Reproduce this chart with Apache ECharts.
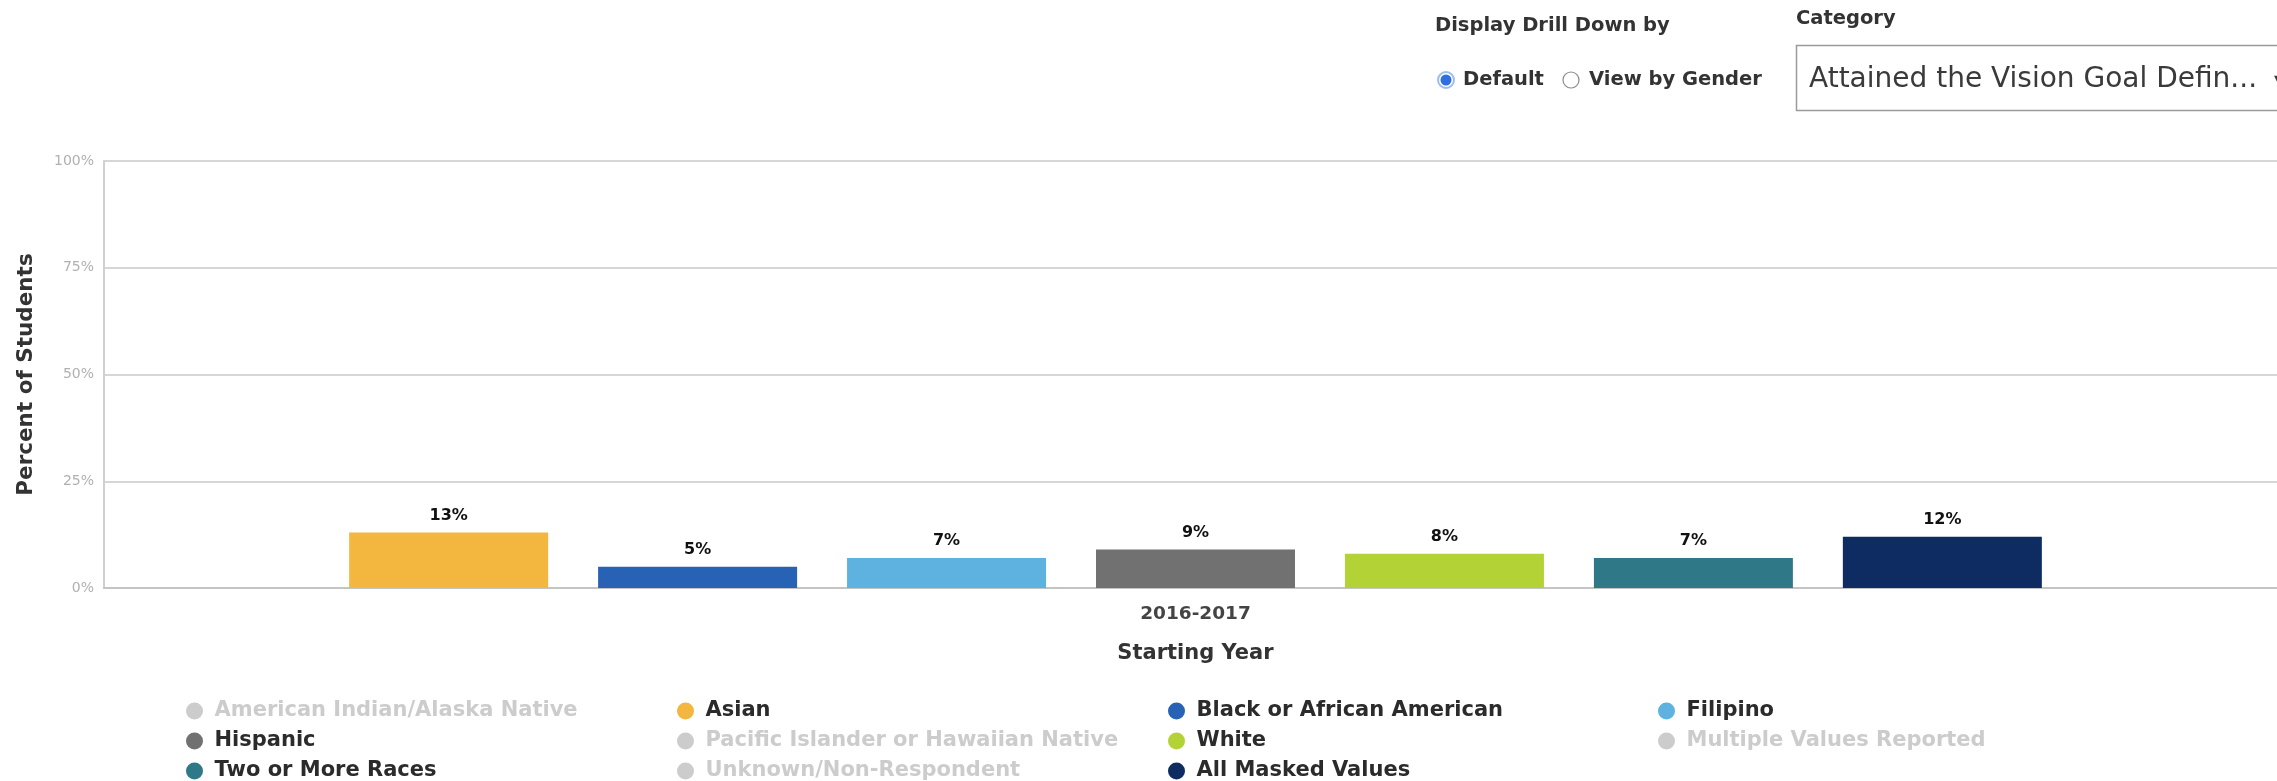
<!DOCTYPE html>
<html>
<head>
<meta charset="utf-8">
<title>Percent of Students by Starting Year</title>
<script src="https://cdn.jsdelivr.net/npm/echarts@6/dist/echarts.min.js"></script>
<style>
  html, body { margin: 0; padding: 0; background: #ffffff; }
  #chart { width: 2277px; height: 781px; }
</style>
</head>
<body>
<div id="chart"></div>
<script>
// Starting years on the category axis
const startingYears = ['2016-2017'];

// Student groups, in legend order
const groupNames = [
  'American Indian/Alaska Native',
  'Asian',
  'Black or African American',
  'Filipino',
  'Hispanic',
  'Pacific Islander or Hawaiian Native',
  'White',
  'Multiple Values Reported',
  'Two or More Races',
  'Unknown/Non-Respondent',
  'All Masked Values'
];

// Percent of students per group for 2016-2017 (null = no reported value)
const percentByGroup = [null, 13, 5, 7, 9, null, 8, null, 7, null, 12];

// Groups switched on in the legend
const groupShown = [false, true, true, true, true, false, true, false, true, false, true];

// Percent axis ticks
const percentTicks = [0, 25, 50, 75, 100];

// Colour for each group
const groupColors = [
  '#9aa7b1', '#F3B63F', '#2862B5', '#5DB2E0', '#717171', '#b8a0c8',
  '#B3D236', '#8d8d8d', '#2E7888', '#c0c0c0', '#0E2C62'
];

const BOLD = '"DejaVu Sans", "Noto Sans", sans-serif';
const PLAIN = '"DejaVu Sans", "Open Sans", sans-serif';

const series = groupNames.map((name, i) => ({
  name: name,
  type: 'bar',
  data: startingYears.map(() => percentByGroup[i]),
  barWidth: 199,
  barGap: '25.1%',
  itemStyle: { color: groupColors[i] },
  label: {
    show: true,
    position: 'top',
    distance: 9,
    formatter: p => p.value + '%',
    color: '#111',
    fontFamily: BOLD,
    fontWeight: 'bold',
    fontSize: 16
  }
}));

const selected = {};
groupNames.forEach((n, i) => { selected[n] = groupShown[i]; });

// Four legend columns laid out like a grid
const columnLeft = [186, 677, 1168, 1658];
const legends = columnLeft.map((left, c) => ({
  orient: 'vertical',
  left: left,
  top: 700,
  height: 90,
  padding: 0,
  icon: 'circle',
  itemWidth: 30,
  itemHeight: 17,
  itemGap: 8,
  selectedMode: true,
  inactiveColor: '#cccccc',
  selected: selected,
  data: groupNames.filter((_, i) => i % 4 === c),
  textStyle: {
    color: '#2b2b2b',
    fontFamily: BOLD,
    fontWeight: 'bold',
    fontSize: 21,
    lineHeight: 22
  }
}));

function label(text, x, y, size, weight, color) {
  return {
    type: 'text',
    style: {
      text: text, x: x, y: y,
      verticalAlign: 'middle',
      fill: color,
      font: weight + ' ' + size + 'px ' + BOLD
    }
  };
}

const chart = echarts.init(document.getElementById('chart'), null, { renderer: 'canvas' });

chart.setOption({
  backgroundColor: '#ffffff',
  animation: false,
  color: groupColors,
  // the plot area runs on past the right edge of the page
  grid: { left: 104, top: 161, width: 2183, height: 427, containLabel: false, outerBoundsMode: 'none' },
  legend: legends,
  xAxis: {
    type: 'category',
    data: startingYears,
    name: 'Starting Year',
    nameLocation: 'middle',
    nameGap: 55,
    nameTextStyle: { color: '#333', fontFamily: BOLD, fontWeight: 'bold', fontSize: 21 },
    axisLine: { show: true, lineStyle: { color: '#c4c4c4', width: 2 } },
    axisTick: { show: false },
    axisLabel: {
      color: '#444',
      fontFamily: BOLD,
      fontWeight: 'bold',
      fontSize: 18.5,
      margin: 17
    }
  },
  yAxis: {
    type: 'value',
    min: percentTicks[0],
    max: percentTicks[percentTicks.length - 1],
    interval: percentTicks[1] - percentTicks[0],
    name: 'Percent of Students',
    nameLocation: 'middle',
    nameGap: 67,
    nameTextStyle: { color: '#333', fontFamily: BOLD, fontWeight: 'bold', fontSize: 21.5 },
    axisLine: { show: true, lineStyle: { color: '#d0d0d0', width: 2 } },
    axisTick: { show: false },
    splitLine: { show: true, lineStyle: { color: '#d6d6d6', width: 2 } },
    axisLabel: {
      formatter: '{value}%',
      color: '#b0b0b0',
      fontFamily: PLAIN,
      fontSize: 14,
      margin: 10
    }
  },
  series: series,
  graphic: [
    label('Display Drill Down by', 1435, 26, 19.5, 'bold', '#333'),
    {
      type: 'circle', shape: { cx: 1446, cy: 80, r: 8 },
      style: { fill: '#ffffff', stroke: '#9dbdf0', lineWidth: 2 }
    },
    {
      type: 'circle', shape: { cx: 1446, cy: 80, r: 5.5 },
      style: { fill: '#2f6fe0' }
    },
    label('Default', 1463, 80, 19.5, 'bold', '#333'),
    {
      type: 'circle', shape: { cx: 1571, cy: 80, r: 8 },
      style: { fill: '#ffffff', stroke: '#8a8a8a', lineWidth: 1.2 }
    },
    label('View by Gender', 1589, 80, 19.5, 'bold', '#333'),
    label('Category', 1796, 19, 19.5, 'bold', '#333'),
    {
      type: 'rect', shape: { x: 1796.5, y: 45.5, width: 520, height: 65 },
      style: { fill: '#ffffff', stroke: '#9a9a9a', lineWidth: 1.5 }
    },
    {
      type: 'text',
      style: {
        text: 'Attained the Vision Goal Defin...', x: 1809, y: 80,
        verticalAlign: 'middle', fill: '#3a3a3a', font: '28px ' + PLAIN
      }
    },
    {
      type: 'text',
      style: {
        text: '▾', x: 2274, y: 80,
        verticalAlign: 'middle', fill: '#3a3a3a', font: '16px ' + PLAIN
      }
    }
  ]
});
</script>
</body>
</html>
